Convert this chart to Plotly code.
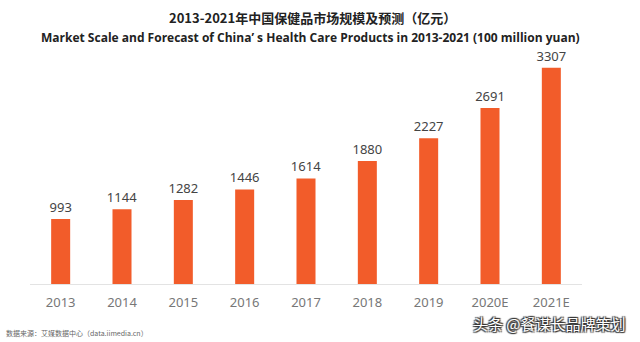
import plotly.graph_objects as go

categories = ["2013", "2014", "2015", "2016", "2017", "2018", "2019", "2020E", "2021E"]
values = [993, 1144, 1282, 1446, 1614, 1880, 2227, 2691, 3307]

title_cn = "2013-2021年中国保健品市场规模及预测（亿元）"
title_en = "Market Scale and Forecast of China’ s Health Care Products in 2013-2021 (100 million yuan)"
source_text = "数据来源：艾媒数据中心（data.iimedia.cn）"
watermark = "头条 @餐谋长品牌策划"

L, R, T, B = 30, 58, 55, 58
W, H = 640, 342
plot_w = W - L - R
plot_h = H - T - B


def px_x(x):
    return (x - L) / plot_w


def px_y(y):
    return (H - B - y) / plot_h


fig = go.Figure(go.Bar(
    x=categories, y=values,
    marker=dict(color="#F25C2A", line=dict(width=0)),
    width=0.31,
    text=[str(v) for v in values],
    textposition="outside",
    constraintext="none",
    textfont=dict(size=13, color="#444444", family="Noto Sans, Arial"),
    cliponaxis=False,
))

fig.update_layout(
    width=W, height=H,
    margin=dict(l=L, r=R, t=T, b=B),
    paper_bgcolor="white", plot_bgcolor="white",
    showlegend=False,
    xaxis=dict(
        showgrid=False, showline=True, linecolor="#E3E3E3", linewidth=1,
        ticks="", tickfont=dict(size=13, color="#777777", family="Noto Sans, Arial"),
        ticklabelstandoff=6,
    ),
    yaxis=dict(range=[0, 3500], visible=False, showgrid=False),
    annotations=[
        dict(text="<b>" + title_cn + "</b>", x=px_x(313), y=px_y(18), xref="paper", yref="paper",
             showarrow=False, font=dict(size=13, color="#222222", family="Noto Sans CJK SC"),
             xanchor="center", yanchor="middle"),
        dict(text="<b>" + title_en + "</b>", x=px_x(310), y=px_y(37), xref="paper", yref="paper",
             showarrow=False, font=dict(size=12, color="#222222", family="Open Sans, Noto Sans"),
             xanchor="center", yanchor="middle"),
        dict(text=source_text, x=px_x(4), y=px_y(333), xref="paper", yref="paper",
             showarrow=False, font=dict(size=7, color="#666666", family="Noto Sans CJK SC"),
             xanchor="left", yanchor="middle"),
        dict(text=watermark, x=px_x(628), y=px_y(323), xref="paper", yref="paper",
             showarrow=False,
             font=dict(size=15, color="white", family="Noto Sans CJK SC",
                       shadow="1px 1px 1px #333, -1px -1px 1px #333, 1px -1px 1px #333, -1px 1px 1px #333"),
             xanchor="right", yanchor="middle"),
    ],
)

fig.write_html("out.html")
